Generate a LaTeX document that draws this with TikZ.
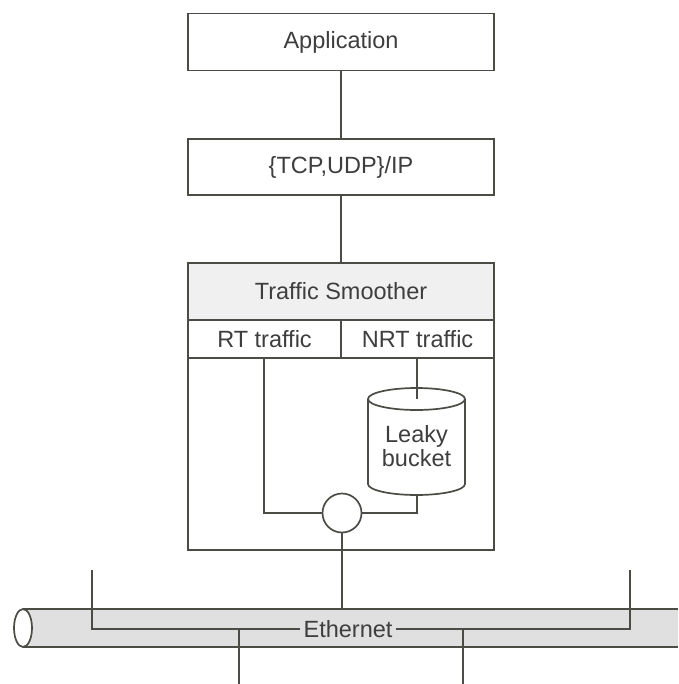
\documentclass[tikz,border=0pt]{standalone}
\usepackage{fontspec}
\setmainfont{Liberation Sans}
\definecolor{ln}{HTML}{4C4C46}
\definecolor{tx}{HTML}{3E3E3E}
\definecolor{hdr}{HTML}{F0F0F0}
\definecolor{pipe}{HTML}{E0E0E0}
\begin{document}
\begin{tikzpicture}[x=1pt,y=-1pt,
  every node/.style={font=\fontsize{23.5}{27}\selectfont, text=tx},
  line/.style={draw=ln, line width=1.7pt},
  layer/.style={line, fill=white, minimum width=306pt, minimum height=57pt, inner sep=0pt},
  cell/.style={line, fill=white, minimum height=38pt, inner sep=0pt},
]
\useasboundingbox (0,0) rectangle (678,684);
% pipe
\fill[pipe] (23,609) rectangle (678,647);
\draw[line] (23,609) -- (678,609);
\draw[line] (23,647) -- (678,647);
\draw[line, fill=white] (23,628) ellipse[x radius=9, y radius=19];
% stack
\node[layer] (app) at (341,42) {Application};
\node[layer, minimum height=56pt] (tcp) at (341,167) {\{TCP,UDP\}/IP};
\node[line, minimum width=306pt, minimum height=287pt, inner sep=0pt] (ts) at (341,406.5) {};
\node[layer, fill=hdr] (hdr) at (341,291.5) {Traffic Smoother};
\node[cell, minimum width=153pt] (rt) at (264.5,339) {RT traffic};
\node[cell, minimum width=153pt] (nrt) at (417.5,339) {NRT traffic};
\draw[line] (app) -- (tcp);
\draw[line] (tcp) -- (hdr);
% leaky bucket
\coordinate (ctop) at (417,399);
\coordinate (cbot) at (417,495);
\draw[line, fill=white] (368,399) -- (368,484) arc[start angle=180, end angle=0, x radius=48.5, y radius=11] -- (465,399);
\draw[line, fill=white] (416.5,399) ellipse[x radius=48.5, y radius=11];
\node[align=center, inner sep=0pt, font=\fontsize{23.5}{24}\selectfont] (lb) at (416.5,446) {Leaky\\bucket};
\node[line, circle, minimum size=39pt, inner sep=0pt, fill=white] (mux) at (342,513) {};
\coordinate (rtc) at (264,513);
\coordinate (nrtc) at (417,513);
\draw[line] (rt.south -| rtc) -- (rtc) -- (mux.west);
\draw[line] (nrt.south -| ctop) -- (ctop);
\draw[line] (cbot) -- (nrtc) -- (mux.east);
% ethernet
\coordinate (ptop) at (342,609);
\draw[line] (mux.south) -- (ptop);
\node[fill=pipe, inner sep=3pt] (eth) at (348,629) {Ethernet};
\coordinate (lt) at (92,570);
\coordinate (lc) at (92,629);
\coordinate (rtop) at (630,570);
\coordinate (rc) at (630,629);
\coordinate (d1) at (239,629);
\coordinate (d1e) at (239,684);
\coordinate (d2) at (463,629);
\coordinate (d2e) at (463,684);
\draw[line] (lt) -- (lc) -- (eth.west);
\draw[line] (rtop) -- (rc) -- (eth.east);
\draw[line] (d1) -- (d1e);
\draw[line] (d2) -- (d2e);
\end{tikzpicture}
\end{document}
